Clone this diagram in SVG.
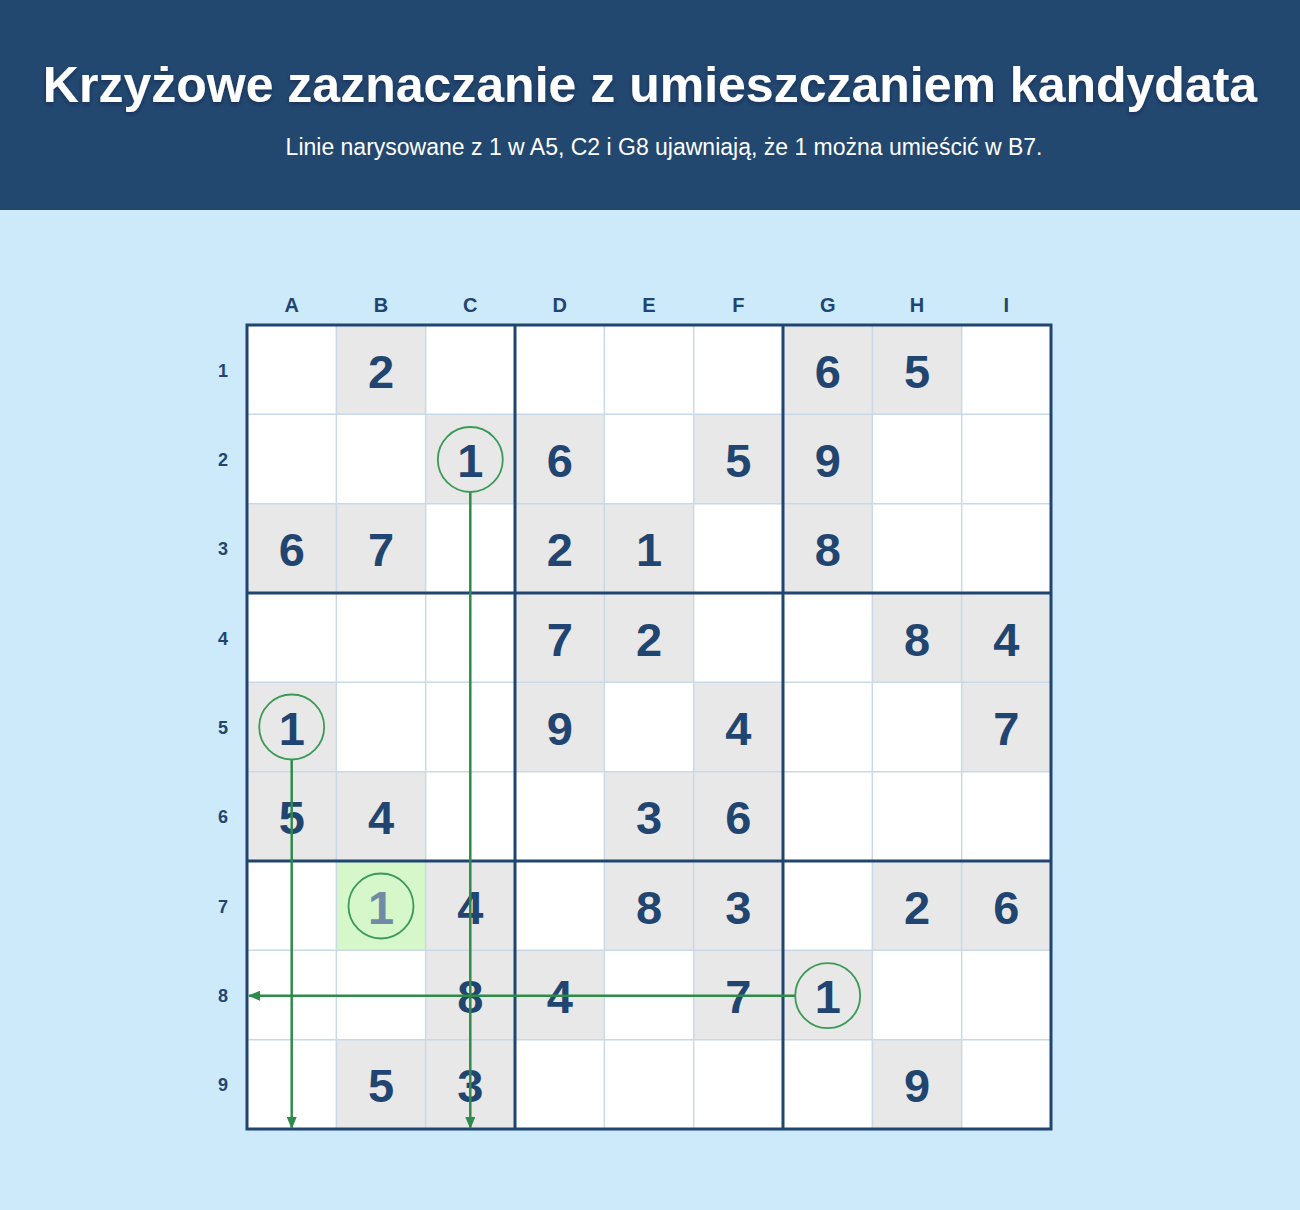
<svg xmlns="http://www.w3.org/2000/svg" width="1300" height="1210" viewBox="0 0 1300 1210">
<style>
.title{font-family:"Liberation Sans",Arial,sans-serif;font-weight:bold;font-size:50px;fill:#ffffff;text-anchor:middle}
.sub{font-family:"Liberation Sans",Arial,sans-serif;font-size:23px;fill:#ffffff;text-anchor:middle}
.lbl{font-family:"Liberation Sans",Arial,sans-serif;font-weight:bold;font-size:20px;fill:#1f4570;text-anchor:middle}
.rl{font-family:"Liberation Sans",Arial,sans-serif;font-weight:bold;font-size:18px;fill:#1f4570;text-anchor:middle}
.d{font-family:"Liberation Sans",Arial,sans-serif;font-weight:bold;font-size:47px;fill:#1f4570;text-anchor:middle}
.cand{font-family:"Liberation Sans",Arial,sans-serif;font-weight:bold;font-size:47px;fill:#6f8ba6;text-anchor:middle}
.g{fill:#e8e8e8}
.w{fill:#ffffff}
.hl{fill:#d5f7c9}
.thin{stroke:#c9d9e7;stroke-width:1.5}
.thick{stroke:#1f4570;stroke-width:3}
.ring{fill:none;stroke:#3b9a55;stroke-width:1.8}
.conn{stroke:#2e8b4a;stroke-width:2.5;fill:none}
</style>
<defs>
<marker id="arr" viewBox="0 0 12 10" refX="11" refY="5" markerWidth="12" markerHeight="10" markerUnits="userSpaceOnUse" orient="auto">
<path d="M0,0 L12,5 L0,10 Z" fill="#2e8b4a"/>
</marker>
<filter id="sh" x="-5%" y="-20%" width="110%" height="140%">
<feDropShadow dx="0" dy="2" stdDeviation="2" flood-color="#0d2440" flood-opacity="0.6"/>
</filter>
</defs>
<rect x="0" y="0" width="1300" height="1210" fill="#cdeafb"/>
<rect x="0" y="0" width="1300" height="210" fill="#234870"/>
<text class="title" x="650" y="102" filter="url(#sh)">Krzyżowe zaznaczanie z umieszczaniem kandydata</text>
<text class="sub" x="664" y="155">Linie narysowane z 1 w A5, C2 i G8 ujawniają, że 1 można umieścić w B7.</text>

<g id="labels">
<text class="lbl" x="291.7" y="312">A</text>
<text class="lbl" x="381" y="312">B</text>
<text class="lbl" x="470.3" y="312">C</text>
<text class="lbl" x="559.7" y="312">D</text>
<text class="lbl" x="649" y="312">E</text>
<text class="lbl" x="738.3" y="312">F</text>
<text class="lbl" x="827.7" y="312">G</text>
<text class="lbl" x="917" y="312">H</text>
<text class="lbl" x="1006.3" y="312">I</text>
<text class="rl" x="223" y="377">1</text>
<text class="rl" x="223" y="466">2</text>
<text class="rl" x="223" y="555">3</text>
<text class="rl" x="223" y="645">4</text>
<text class="rl" x="223" y="734">5</text>
<text class="rl" x="223" y="823">6</text>
<text class="rl" x="223" y="913">7</text>
<text class="rl" x="223" y="1002">8</text>
<text class="rl" x="223" y="1091">9</text>
</g>

<g id="board">
<rect class="w" x="247" y="325" width="804" height="804"/>
<rect class="g" x="336.33" y="325" width="89.33" height="89.33"/>
<rect class="g" x="783" y="325" width="89.33" height="89.33"/>
<rect class="g" x="872.33" y="325" width="89.33" height="89.33"/>
<rect class="g" x="425.67" y="414.33" width="89.33" height="89.33"/>
<rect class="g" x="515" y="414.33" width="89.33" height="89.33"/>
<rect class="g" x="693.67" y="414.33" width="89.33" height="89.33"/>
<rect class="g" x="783" y="414.33" width="89.33" height="89.33"/>
<rect class="g" x="247" y="503.67" width="89.33" height="89.33"/>
<rect class="g" x="336.33" y="503.67" width="89.33" height="89.33"/>
<rect class="g" x="515" y="503.67" width="89.33" height="89.33"/>
<rect class="g" x="604.33" y="503.67" width="89.33" height="89.33"/>
<rect class="g" x="783" y="503.67" width="89.33" height="89.33"/>
<rect class="g" x="515" y="593" width="89.33" height="89.33"/>
<rect class="g" x="604.33" y="593" width="89.33" height="89.33"/>
<rect class="g" x="872.33" y="593" width="89.33" height="89.33"/>
<rect class="g" x="961.67" y="593" width="89.33" height="89.33"/>
<rect class="g" x="247" y="682.33" width="89.33" height="89.33"/>
<rect class="g" x="515" y="682.33" width="89.33" height="89.33"/>
<rect class="g" x="693.67" y="682.33" width="89.33" height="89.33"/>
<rect class="g" x="961.67" y="682.33" width="89.33" height="89.33"/>
<rect class="g" x="247" y="771.67" width="89.33" height="89.33"/>
<rect class="g" x="336.33" y="771.67" width="89.33" height="89.33"/>
<rect class="g" x="604.33" y="771.67" width="89.33" height="89.33"/>
<rect class="g" x="693.67" y="771.67" width="89.33" height="89.33"/>
<rect class="hl" x="336.33" y="861" width="89.33" height="89.33"/>
<rect class="g" x="425.67" y="861" width="89.33" height="89.33"/>
<rect class="g" x="604.33" y="861" width="89.33" height="89.33"/>
<rect class="g" x="693.67" y="861" width="89.33" height="89.33"/>
<rect class="g" x="872.33" y="861" width="89.33" height="89.33"/>
<rect class="g" x="961.67" y="861" width="89.33" height="89.33"/>
<rect class="g" x="425.67" y="950.33" width="89.33" height="89.33"/>
<rect class="g" x="515" y="950.33" width="89.33" height="89.33"/>
<rect class="g" x="693.67" y="950.33" width="89.33" height="89.33"/>
<rect class="g" x="783" y="950.33" width="89.33" height="89.33"/>
<rect class="g" x="336.33" y="1039.67" width="89.33" height="89.33"/>
<rect class="g" x="425.67" y="1039.67" width="89.33" height="89.33"/>
<rect class="g" x="872.33" y="1039.67" width="89.33" height="89.33"/>
<path class="thin" d="M336.33,325V1129M425.67,325V1129M604.33,325V1129M693.67,325V1129M872.33,325V1129M961.67,325V1129M247,414.33H1051M247,503.67H1051M247,682.33H1051M247,771.67H1051M247,950.33H1051M247,1039.67H1051"/>
<path class="thick" d="M515,325V1129M783,325V1129M247,593H1051M247,861H1051"/>
<rect x="247" y="325" width="804" height="804" fill="none" stroke="#1f4570" stroke-width="3"/>
</g>

<g id="digits">
<text class="d" x="381" y="388">2</text>
<text class="d" x="827.7" y="388">6</text>
<text class="d" x="917" y="388">5</text>
<text class="d" x="559.7" y="477">6</text>
<text class="d" x="738.3" y="477">5</text>
<text class="d" x="827.7" y="477">9</text>
<text class="d" x="291.7" y="566">6</text>
<text class="d" x="381" y="566">7</text>
<text class="d" x="559.7" y="566">2</text>
<text class="d" x="649" y="566">1</text>
<text class="d" x="827.7" y="566">8</text>
<text class="d" x="559.7" y="656">7</text>
<text class="d" x="649" y="656">2</text>
<text class="d" x="917" y="656">8</text>
<text class="d" x="1006.3" y="656">4</text>
<text class="d" x="559.7" y="745">9</text>
<text class="d" x="738.3" y="745">4</text>
<text class="d" x="1006.3" y="745">7</text>
<text class="d" x="291.7" y="834">5</text>
<text class="d" x="381" y="834">4</text>
<text class="d" x="649" y="834">3</text>
<text class="d" x="738.3" y="834">6</text>
<text class="d" x="470.3" y="924">4</text>
<text class="d" x="649" y="924">8</text>
<text class="d" x="738.3" y="924">3</text>
<text class="d" x="917" y="924">2</text>
<text class="d" x="1006.3" y="924">6</text>
<text class="d" x="470.3" y="1013">8</text>
<text class="d" x="559.7" y="1013">4</text>
<text class="d" x="738.3" y="1013">7</text>
<text class="d" x="381" y="1102">5</text>
<text class="d" x="470.3" y="1102">3</text>
<text class="d" x="917" y="1102">9</text>
</g>

<g id="connectors">
<line class="conn" x1="291.7" y1="759.5" x2="291.7" y2="1128" marker-end="url(#arr)"/>
<line class="conn" x1="470.3" y1="492" x2="470.3" y2="1128" marker-end="url(#arr)"/>
<line class="conn" x1="795.5" y1="995.7" x2="249" y2="995.7" marker-end="url(#arr)"/>
</g>

<g id="node-C2">
<text class="d" x="470.3" y="477">1</text>
<circle class="ring" cx="470.3" cy="459.5" r="32.5"/>
</g>
<g id="node-A5">
<text class="d" x="291.7" y="745">1</text>
<circle class="ring" cx="291.7" cy="727" r="32.5"/>
</g>
<g id="node-G8">
<text class="d" x="827.7" y="1013">1</text>
<circle class="ring" cx="827.7" cy="995.7" r="32.5"/>
</g>
<g id="node-B7">
<text class="cand" x="381" y="924">1</text>
<circle class="ring" cx="381" cy="906" r="32.5"/>
</g>
</svg>
